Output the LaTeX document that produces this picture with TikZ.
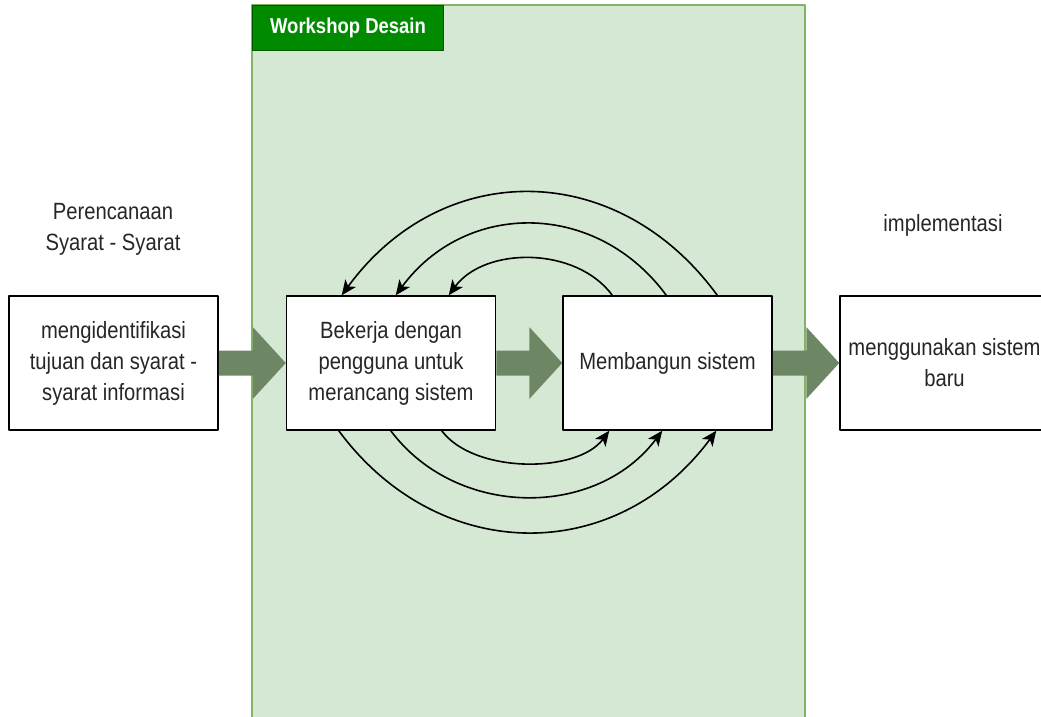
\documentclass[tikz,border=0pt]{standalone}
\usepackage{fontspec}
\setmainfont{Liberation Sans}[FakeStretch=0.86]
\usetikzlibrary{arrows.meta,calc}
\definecolor{panelfill}{HTML}{D5E8D4}
\definecolor{paneldraw}{HTML}{82B366}
\definecolor{tabfill}{HTML}{008A00}
\definecolor{tabdraw}{HTML}{005700}
\definecolor{fatgreen}{HTML}{6D8764}
\newcommand{\fatarrow}[2]{%
	\fill[fat] ([yshift=12.5pt]#1.east) -| ($(#2.west)+(-33,36)$) -- (#2.west) -- ++(-33,-36) |- ($(#1.east)+(0,-12.5)$) -- cycle;}
\begin{document}
\begin{tikzpicture}[x=1pt,y=1pt,>={Stealth[length=15pt,width=13pt,inset=4pt]}, font=\fontsize{23.5}{31}\selectfont, line join=round,
	box/.style={draw=black, line width=1.5pt, fill=white, minimum width=209pt, minimum height=134pt, align=center, inner sep=0pt, text=black!85},
	cycarrow/.style={->, line width=1.6pt},
	fat/.style={fill=fatgreen}]
		\useasboundingbox (0,0) rectangle (1041,716);
		\clip (0,0) rectangle (1041,716);
		\draw[fill=panelfill, draw=paneldraw, line width=1.5pt] (252,-10) rectangle (805,711);
		\node[draw=tabdraw, fill=tabfill, line width=1pt, minimum width=191pt, minimum height=45pt, anchor=north west, inner sep=0pt, text=white, font=\fontsize{21.5}{26}\selectfont\bfseries] (tab) at (252,711) {Workshop Desain};
		\node[box] (plan) at (113.5,353) {mengidentifikasi\\tujuan dan syarat -\\syarat informasi};
		\node[box] (design) at (391,353) {Bekerja dengan\\pengguna untuk\\merancang sistem};
		\node[box] (build) at (667.5,353) {Membangun sistem};
		\node[box] (impl) at (944.5,353) {menggunakan sistem\\baru};
		\node[align=center, text=black!85] (planlabel) at (113,487) {Perencanaan\\Syarat - Syarat};
		\node[text=black!85] (impllabel) at (943,491) {implementasi};
		\fatarrow{plan}{design}
		\fatarrow{design}{build}
		\fatarrow{build}{impl}
		%\draw[help lines] (0,0) grid[step=50] (1041,716);
		\foreach \a/\b/\h/\d in {50/163/49/36, 104/110/95/70, 155/56/137/100}
		\draw[cycarrow] ([xshift=\a pt]build.north west) .. controls +(-\d,\h) and +(\d,\h) .. ([xshift=\b pt]design.north west);
		\foreach \a/\b/\h/\d in {53/154/135/100, 105/100/88/66, 156/47/43/32}
		\draw[cycarrow] ([xshift=\a pt]design.south west) .. controls +(\d,-\h) and +(-\d,-\h) .. ([xshift=\b pt]build.south west);
\end{tikzpicture}
\end{document}
